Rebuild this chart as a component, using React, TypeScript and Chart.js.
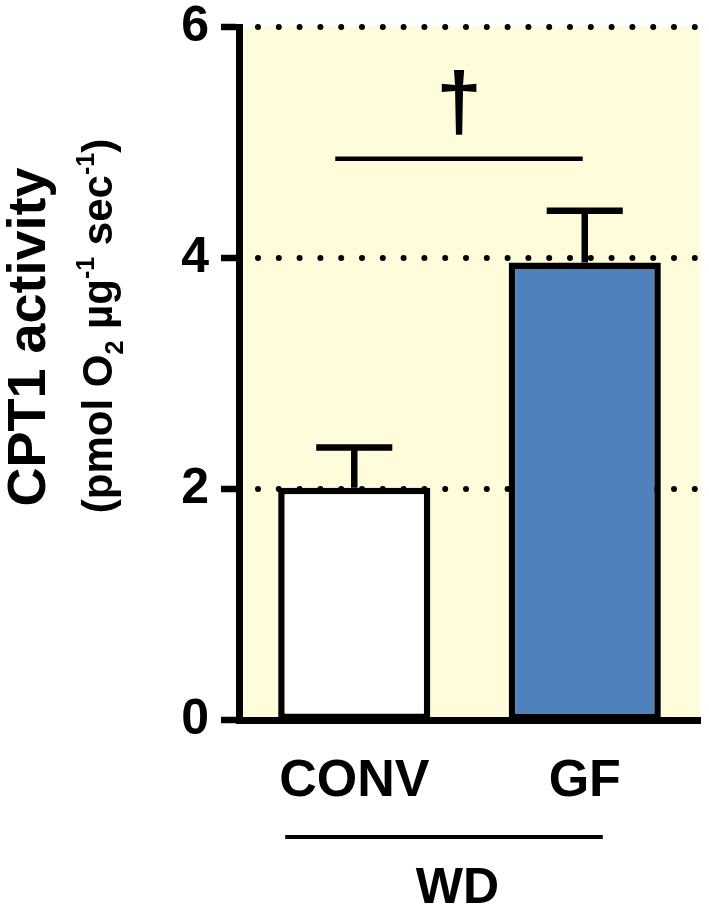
import React, { useEffect, useRef } from "react";
import { Chart, registerables } from "chart.js";

Chart.register(...registerables);

const categories = ["CONV", "GF"];
const means = [2.01, 3.96];
const errors = [0.35, 0.45];
const yTicks = [0, 2, 4, 6];
const barColors = ["#FFFFFF", "#4F81BD"];
const yTitle = "CPT1 activity";
const groupLabel = "WD";
const sigMark = "\u2020";

const FAMILY = '"Liberation Sans", Arial, Helvetica, sans-serif';
const PLOT_BG = "#FEFCDA";

const drawRichRotated = (
  ctx: CanvasRenderingContext2D,
  cx: number,
  cy: number,
  parts: { t: string; k: "n" | "sub" | "sup" }[],
  size: number
) => {
  const small = Math.round(size * 0.6);
  const fontFor = (k: string) => `bold ${k === "n" ? size : small}px ${FAMILY}`;
  let total = 0;
  const widths = parts.map((p) => {
    ctx.font = fontFor(p.k);
    const w = ctx.measureText(p.t).width;
    total += w;
    return w;
  });
  ctx.save();
  ctx.translate(cx, cy);
  ctx.rotate(-Math.PI / 2);
  ctx.textAlign = "left";
  ctx.textBaseline = "alphabetic";
  ctx.fillStyle = "#000";
  let x = -total / 2;
  parts.forEach((p, i) => {
    ctx.font = fontFor(p.k);
    const dy = p.k === "sub" ? size * 0.25 : p.k === "sup" ? -size * 0.42 : 0;
    ctx.fillText(p.t, x, dy);
    x += widths[i];
  });
  ctx.restore();
};

const annotPlugin = {
  id: "annot",
  beforeDraw(chart: any) {
    const { ctx, chartArea } = chart;
    ctx.save();
    ctx.fillStyle = PLOT_BG;
    ctx.fillRect(chartArea.left, chartArea.top, chartArea.right - chartArea.left, chartArea.bottom - chartArea.top);
    ctx.restore();
  },
  beforeDatasetsDraw(chart: any) {
    const { ctx, chartArea, scales } = chart;
    ctx.save();
    ctx.strokeStyle = "#000";
    ctx.lineWidth = 6;
    ctx.lineCap = "round";
    ctx.setLineDash([0, 20.8]);
    yTicks.forEach((v) => {
      if (v === 0) return;
      const y = scales.y.getPixelForValue(v);
      ctx.beginPath();
      ctx.moveTo(chartArea.left + 19, y);
      ctx.lineTo(chartArea.right, y);
      ctx.stroke();
    });
    ctx.restore();
  },
  afterDatasetsDraw(chart: any) {
    const { ctx, scales } = chart;
    const meta = chart.getDatasetMeta(0);
    ctx.save();
    ctx.strokeStyle = "#000";
    ctx.lineWidth = 6.5;
    ctx.lineCap = "butt";
    means.forEach((m, i) => {
      const bar = meta.data[i];
      const x = bar.x;
      const half = bar.width * 0.25;
      const y0 = scales.y.getPixelForValue(m);
      const y1 = scales.y.getPixelForValue(m + errors[i]);
      ctx.beginPath();
      ctx.moveTo(x, y0);
      ctx.lineTo(x, y1);
      ctx.moveTo(x - half, y1);
      ctx.lineTo(x + half, y1);
      ctx.stroke();
    });
    // significance bracket
    const xa = scales.x.getPixelForValue(0) - 19;
    const xb = scales.x.getPixelForValue(1) - 2;
    const ys = scales.y.getPixelForValue(4.86);
    ctx.lineWidth = 4.5;
    ctx.beginPath();
    ctx.moveTo(xa, ys);
    ctx.lineTo(xb, ys);
    ctx.stroke();
    ctx.fillStyle = "#000";
    ctx.font = `bold 82px ${FAMILY}`;
    ctx.textAlign = "center";
    ctx.textBaseline = "alphabetic";
    ctx.fillText(sigMark, (xa + xb) / 2, scales.y.getPixelForValue(5.12));
    ctx.restore();
  },
  afterDraw(chart: any) {
    const { ctx, scales } = chart;
    // y title
    ctx.save();
    ctx.translate(45, 337);
    ctx.rotate(-Math.PI / 2);
    ctx.font = `bold 54px ${FAMILY}`;
    ctx.fillStyle = "#000";
    ctx.textAlign = "center";
    ctx.textBaseline = "alphabetic";
    ctx.fillText(yTitle, 0, 0);
    ctx.restore();
    drawRichRotated(
      ctx,
      112,
      326,
      [
        { t: "(pmol O", k: "n" },
        { t: "2", k: "sub" },
        { t: " \u00B5g", k: "n" },
        { t: "-1", k: "sup" },
        { t: " sec", k: "n" },
        { t: "-1", k: "sup" },
        { t: ")", k: "n" },
      ],
      42
    );
    // group line + label
    const x0 = scales.x.getPixelForValue(0);
    const x1 = scales.x.getPixelForValue(1);
    ctx.save();
    ctx.strokeStyle = "#000";
    ctx.lineWidth = 4;
    ctx.beginPath();
    ctx.moveTo(x0 - 69, 837);
    ctx.lineTo(x1 + 18, 837);
    ctx.stroke();
    ctx.fillStyle = "#000";
    ctx.font = `bold 50px ${FAMILY}`;
    ctx.textAlign = "center";
    ctx.textBaseline = "alphabetic";
    ctx.fillText(groupLabel, (x0 + x1) / 2 - 12, 903);
    ctx.restore();
  },
};

export default function App() {
  const ref = useRef<HTMLCanvasElement | null>(null);
  useEffect(() => {
    if (!ref.current) return;
    const chart = new Chart(ref.current, {
      type: "bar",
      data: {
        labels: categories,
        datasets: [
          {
            data: means,
            backgroundColor: barColors,
            borderColor: "#000",
            borderWidth: 6.5,
            borderSkipped: false,
            barPercentage: 0.66,
            categoryPercentage: 1,
          },
        ],
      },
      options: {
        animation: false,
        responsive: true,
        maintainAspectRatio: false,
        devicePixelRatio: 1,
        layout: { padding: { left: 0, top: 27, right: 9, bottom: 0 } },
        plugins: { legend: { display: false }, tooltip: { enabled: false }, title: { display: false } },
        scales: {
          x: {
            type: "category",
            offset: true,
            grid: { display: false, drawTicks: false },
            border: { display: true, width: 7, color: "#000" },
            ticks: {
              color: "#000",
              font: { family: FAMILY, size: 52, weight: "bold" },
              padding: 30,
              maxRotation: 0,
            },
            afterFit: (s: any) => {
              s.height = 203;
              s.paddingLeft = 0;
              s.paddingRight = 0;
            },
          },
          y: {
            min: 0,
            max: 6,
            afterBuildTicks: (s: any) => {
              s.ticks = yTicks.map((v) => ({ value: v }));
            },
            grid: {
              display: true,
              drawOnChartArea: false,
              drawTicks: true,
              tickLength: 18,
              tickWidth: 6.5,
              tickColor: "#000",
              lineWidth: 0,
            },
            border: { display: true, width: 7, color: "#000" },
            ticks: {
              color: "#000",
              font: { family: FAMILY, size: 50, weight: "bold" },
              padding: 12,
            },
            afterFit: (s: any) => {
              s.width = 239;
              s.paddingTop = 0;
              s.paddingBottom = 0;
            },
          },
        },
      },
      plugins: [annotPlugin],
    } as any);
    return () => chart.destroy();
  }, []);
  return (
    <div style={{ position: "absolute", left: 0, top: 0, width: 709, height: 923, background: "#fff" }}>
      <canvas ref={ref} />
    </div>
  );
}
